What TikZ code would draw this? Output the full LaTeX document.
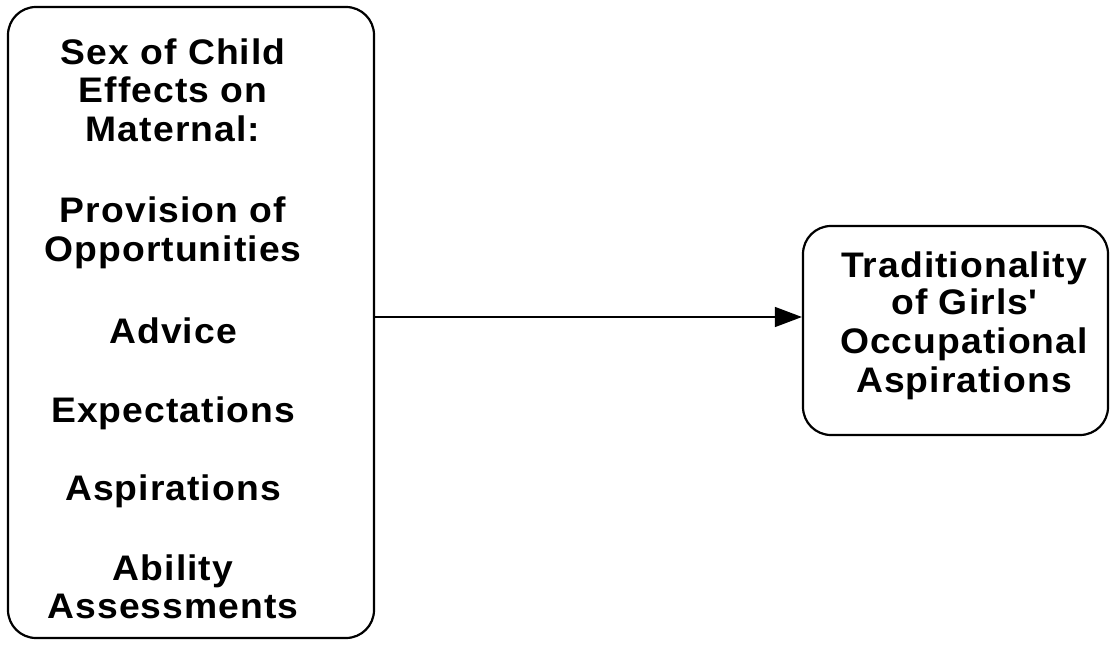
\documentclass[tikz,border=0pt]{standalone}
\usepackage{fontspec}
\setmainfont{Liberation Sans}[FakeStretch=1.05, LetterSpace=3]
\usetikzlibrary{arrows.meta}
\begin{document}
\begin{tikzpicture}[x=1pt,y=1pt,
  box/.style={draw, line width=2.2pt, rounded corners=28pt, inner sep=0pt},
  lbl/.style={anchor=base, inner sep=0pt, font=\fontsize{35.5}{39}\selectfont\bfseries},
  conn/.style={line width=1.4pt, -{Triangle[length=27pt,width=20pt]}}]
\useasboundingbox (0,0) rectangle (1110,646);
\node[box, minimum width=366pt, minimum height=631pt] (L) at (191,323.5) {};
\node[box, minimum width=305pt, minimum height=209pt] (R) at (955.5,315.5) {};
\node[lbl] (l1) at (173,646-65) {Sex of Child};
\node[lbl] (l2) at (173,646-103) {Effects on};
\node[lbl] (l3) at (173,646-142) {Maternal:};
\node[lbl] (l4) at (173,646-223) {Provision of};
\node[lbl] (l5) at (173,646-262) {Opportunities};
\node[lbl] (l6) at (173,646-343) {Advice};
\node[lbl] (l7) at (173,646-422) {Expectations};
\node[lbl] (l8) at (173,646-500) {Aspirations};
\node[lbl] (l9) at (173,646-580) {Ability};
\node[lbl] (l10) at (173,646-618) {Assessments};
\node[lbl] (r1) at (964,646-278) {Traditionality};
\node[lbl] (r2) at (964,646-315) {of Girls\textquotesingle};
\node[lbl] (r3) at (964,646-353) {Occupational};
\node[lbl] (r4) at (964,646-392) {Aspirations};
\coordinate (A) at (0,329);
\draw[conn] (L.east |- A) -- (R.west |- A);
\end{tikzpicture}
\end{document}
